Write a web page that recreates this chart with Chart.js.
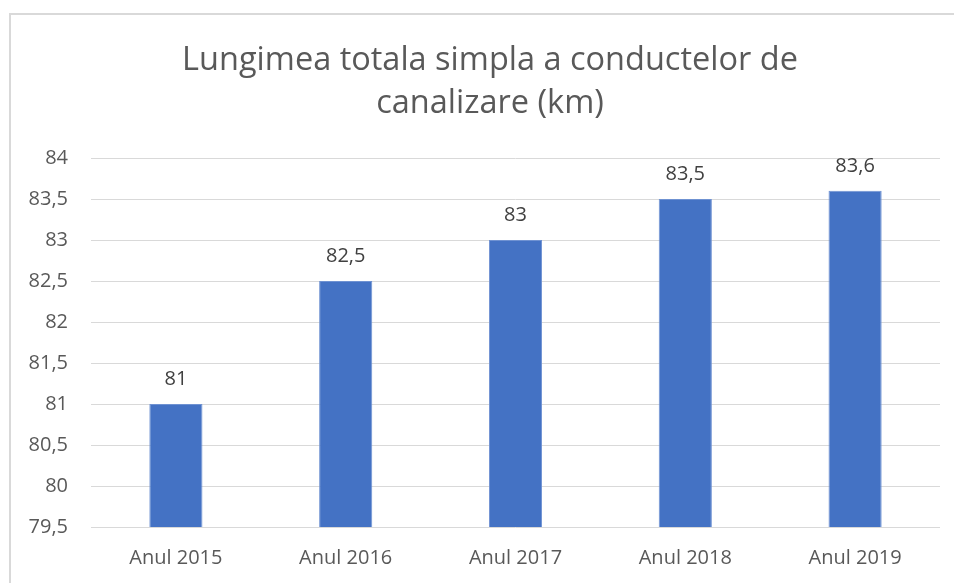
<!DOCTYPE html>
<html>
<head>
<meta charset="utf-8">
<script src="https://cdn.jsdelivr.net/npm/chart.js@4/dist/chart.umd.min.js"></script>
<style>
  html, body { margin:0; padding:0; background:#fff; overflow:hidden; }
  .frame { position:absolute; left:9px; top:13px; width:958px; height:572px;
           border-left:2px solid #d9d9d9; border-top:2px solid #d9d9d9; }
</style>
</head>
<body>
<div class="frame"><canvas id="chart"></canvas></div>
<script>
const titleLines = ['Lungimea totala simpla a conductelor de', 'canalizare (km)'];
const years = ['Anul 2015', 'Anul 2016', 'Anul 2017', 'Anul 2018', 'Anul 2019'];
const lengthKm = [81, 82.5, 83, 83.5, 83.6];
const yMin = 79.5, yMax = 84, yStep = 0.5;

const FONT = '"Open Sans", "Segoe UI", sans-serif';
const fmtRo = (v) => String(v).replace('.', ',');

// title centred on the whole canvas (the built-in one centres between the layout paddings)
const chartTitle = {
  id: 'chartTitle',
  afterDraw(chart){
    const {ctx, width} = chart;
    ctx.save();
    ctx.font = '32.5px ' + FONT;
    ctx.fillStyle = '#595959';
    ctx.textAlign = 'center';
    ctx.textBaseline = 'middle';
    titleLines.forEach((t, i) => ctx.fillText(t, width / 2, 45.5 + i * 43));
    ctx.restore();
  }
};

// value labels above bars (no datalabels plugin available offline)
const barLabels = {
  id: 'barLabels',
  afterDatasetsDraw(chart){
    const {ctx} = chart;
    const meta = chart.getDatasetMeta(0);
    ctx.save();
    ctx.font = '20px ' + FONT;
    ctx.fillStyle = '#404040';
    ctx.textAlign = 'center';
    ctx.textBaseline = 'middle';
    meta.data.forEach((bar, i) => {
      ctx.fillText(fmtRo(lengthKm[i]), bar.x, bar.y - 25);
    });
    ctx.restore();
  }
};

new Chart(document.getElementById('chart'), {
  type: 'bar',
  data: {
    labels: years,
    datasets: [{
      data: lengthKm,
      backgroundColor: '#4472c4',
      borderColor: '#6f92d2',
      borderWidth: 1,
      categoryPercentage: 0.313,
      barPercentage: 1
    }]
  },
  options: {
    responsive: true,
    maintainAspectRatio: false,
    animation: false,
    layout: { padding: { left: 0, right: 29, top: 143, bottom: 0 } },
    plugins: {
      legend: { display: false },
      tooltip: { enabled: false },
      title: { display: false }
    },
    scales: {
      x: {
        grid: { display: false, drawTicks: false },
        border: { display: false },
        ticks: { color: '#595959', font: { family: FONT, size: 20 }, padding: 19 },
        afterFit: (s) => { s.height = 60; }
      },
      y: {
        min: yMin, max: yMax,
        grid: { color: '#d9d9d9', lineWidth: 1, drawTicks: false },
        border: { display: false },
        ticks: {
          stepSize: yStep,
          color: '#595959',
          padding: 23,
          font: { family: FONT, size: 20 },
          callback: (v) => fmtRo(v)
        },
        afterFit: (s) => { s.width = 80; }
      }
    }
  },
  plugins: [barLabels, chartTitle]
});
</script>
</body>
</html>
